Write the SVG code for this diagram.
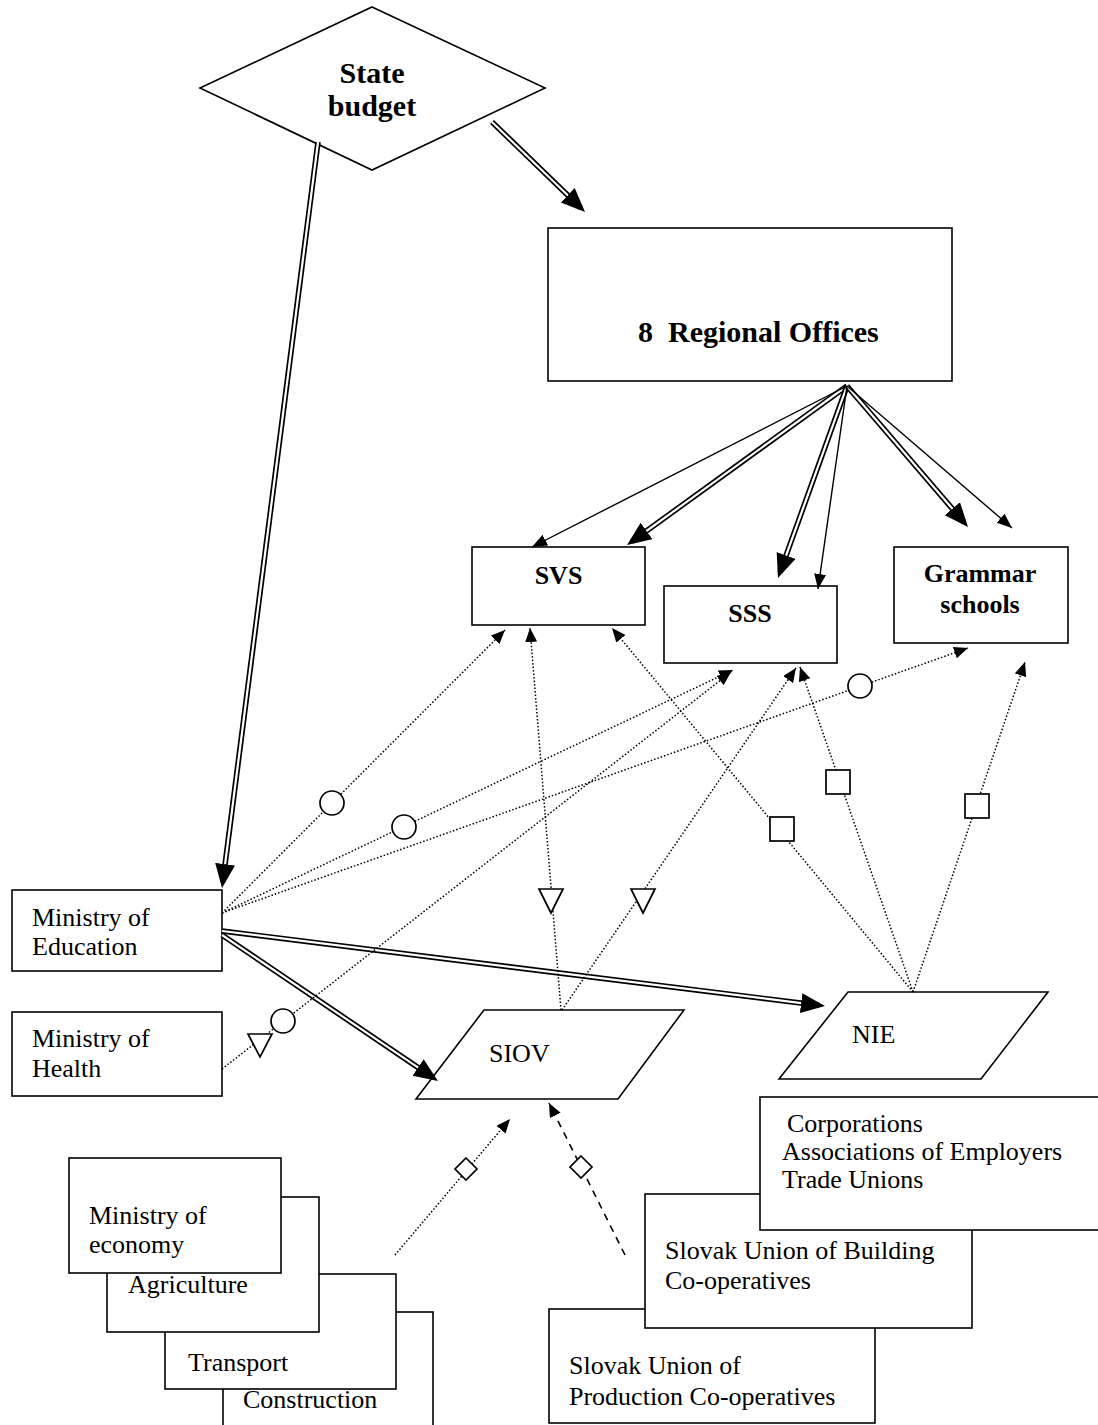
<svg xmlns="http://www.w3.org/2000/svg" width="1098" height="1425" viewBox="0 0 1098 1425">
<style>
.box{fill:#fff;stroke:#000;stroke-width:1.6}
.t{font-family:"Liberation Serif","Times New Roman",serif;font-size:26px;fill:#000}
.b{font-weight:bold}
.o{stroke:#000;stroke-width:5.6;fill:none}
.i{stroke:#fff;stroke-width:2.2;fill:none}
.h{stroke:none;fill:none;marker-end:url(#bh)}
.thin{stroke:#000;stroke-width:1.4;fill:none;marker-end:url(#th)}
.dot{stroke:#000;stroke-width:1.5;stroke-dasharray:1.5 2;fill:none;marker-end:url(#dh)}
.dash{stroke:#000;stroke-width:1.6;stroke-dasharray:7 6;fill:none;marker-end:url(#dh)}
.sym{fill:#fff;stroke:#000;stroke-width:1.7}
</style>
<defs>
<marker id="bh" markerUnits="userSpaceOnUse" markerWidth="26" markerHeight="22" refX="18" refY="10" orient="auto"><path d="M0,0 L24,10 L0,20 z" fill="#000"/></marker>
<marker id="th" markerUnits="userSpaceOnUse" markerWidth="17" markerHeight="14" refX="15" refY="6" orient="auto"><path d="M0,0 L15,6 L0,12 z" fill="#000"/></marker>
<marker id="dh" markerUnits="userSpaceOnUse" markerWidth="16" markerHeight="13" refX="14" refY="6" orient="auto"><path d="M0,0 L14,6 L0,12 z" fill="#000"/></marker>
</defs>
<rect width="1098" height="1425" fill="#fff"/>

<g id="state-budget">
<polygon class="box" points="372,7 545,88 372,170 200,88"/>
<text class="t b" x="372" y="83" text-anchor="middle" style="font-size:30px">State</text>
<text class="t b" x="372" y="116" text-anchor="middle" style="font-size:30px">budget</text>
</g>
<g id="regional-offices">
<rect class="box" x="548" y="228" width="404" height="153"/>
<text class="t b" x="638" y="342" style="font-size:30px;white-space:pre" xml:space="preserve">8  Regional Offices</text>
</g>
<g id="svs">
<rect class="box" x="472" y="547" width="173" height="78"/>
<text class="t b" x="558.5" y="584" text-anchor="middle">SVS</text>
</g>
<g id="sss">
<rect class="box" x="664" y="586" width="173" height="77"/>
<text class="t b" x="750" y="622" text-anchor="middle">SSS</text>
</g>
<g id="grammar-schools">
<rect class="box" x="894" y="547" width="174" height="96"/>
<text class="t b" x="980" y="582" text-anchor="middle">Grammar</text>
<text class="t b" x="980" y="613" text-anchor="middle">schools</text>
</g>
<g id="ministry-education">
<rect class="box" x="12" y="890" width="210" height="81"/>
<text class="t" x="32" y="926">Ministry of</text>
<text class="t" x="32" y="955">Education</text>
</g>
<g id="ministry-health">
<rect class="box" x="12" y="1012" width="210" height="84"/>
<text class="t" x="32" y="1047">Ministry of</text>
<text class="t" x="32" y="1077">Health</text>
</g>
<g id="siov">
<polygon class="box" points="484,1010 684,1010 618,1099 416,1099"/>
<text class="t" x="489" y="1062">SIOV</text>
</g>
<g id="nie">
<polygon class="box" points="848,992 1048,992 981,1079 779,1079"/>
<text class="t" x="852" y="1043">NIE</text>
</g>

<g id="production-coops">
<rect class="box" x="549" y="1309" width="326" height="114"/>
<text class="t" x="569" y="1374">Slovak Union of</text>
<text class="t" x="569" y="1405">Production Co-operatives</text>
</g>
<g id="building-coops">
<rect class="box" x="645" y="1194" width="327" height="134"/>
<text class="t" x="665" y="1259">Slovak Union of Building</text>
<text class="t" x="665" y="1289">Co-operatives</text>
</g>
<g id="corporations">
<rect class="box" x="760" y="1097" width="345" height="133"/>
<text class="t" x="787" y="1132">Corporations</text>
<text class="t" x="782" y="1160">Associations of Employers</text>
<text class="t" x="782" y="1188">Trade Unions</text>
</g>

<g id="construction">
<rect class="box" x="223" y="1312" width="210" height="130"/>
<text class="t" x="243" y="1408">Construction</text>
</g>
<g id="transport">
<rect class="box" x="165" y="1274" width="231" height="115"/>
<text class="t" x="188" y="1371">Transport</text>
</g>
<g id="agriculture">
<rect class="box" x="107" y="1197" width="212" height="135"/>
<text class="t" x="128" y="1293">Agriculture</text>
</g>
<g id="ministry-economy">
<rect class="box" x="69" y="1158" width="212" height="115"/>
<text class="t" x="89" y="1224">Ministry of</text>
<text class="t" x="89" y="1253">economy</text>
</g>

<g id="connectors">
<g id="double-arrows">
<path class="o" d="M318,142 L222.8,882"/><path class="i" d="M318,142 L222.8,882"/><path class="h" d="M318,142 L222.8,882"/>
<path class="o" d="M492,122 L580.7,207.8"/><path class="i" d="M492,122 L580.7,207.8"/><path class="h" d="M492,122 L580.7,207.8"/>
<path class="o" d="M847,386 L631.9,541.5"/><path class="i" d="M847,386 L631.9,541.5"/><path class="h" d="M847,386 L631.9,541.5"/>
<path class="o" d="M847,386 L780,572.4"/><path class="i" d="M847,386 L780,572.4"/><path class="h" d="M847,386 L780,572.4"/>
<path class="o" d="M847,386 L964.1,522.4"/><path class="i" d="M847,386 L964.1,522.4"/><path class="h" d="M847,386 L964.1,522.4"/>
<path class="o" d="M222,935 L433,1077.6"/><path class="i" d="M222,935 L433,1077.6"/><path class="h" d="M222,935 L433,1077.6"/>
<path class="o" d="M222,931 L819,1005.3"/><path class="i" d="M222,931 L819,1005.3"/><path class="h" d="M222,931 L819,1005.3"/>
</g>
<g id="thin-arrows">
<path class="thin" d="M847,386 L532,547"/>
<path class="thin" d="M847,386 L818,589"/>
<path class="thin" d="M847,386 L1012,528"/>
</g>
<g id="dotted-arrows">
<path class="dot" d="M222,913 L505,630"/>
<path class="dot" d="M222,913 L733,670"/>
<path class="dot" d="M222,913 L968,648"/>
<path class="dot" d="M222,1069 L731,672"/>
<path class="dot" d="M561,1010 L530,628"/>
<path class="dot" d="M562,1010 L796,668"/>
<path class="dot" d="M913,992 L612,628"/>
<path class="dot" d="M913,992 L800,667"/>
<path class="dot" d="M913,992 L1025,662"/>
<path class="dot" d="M395,1255 L510,1119"/>
<path class="dash" d="M625,1255 L549,1103"/>
</g>
<g id="line-symbols">
<circle class="sym" cx="332" cy="803" r="12"/>
<circle class="sym" cx="404" cy="827" r="12"/>
<circle class="sym" cx="860" cy="686" r="12"/>
<circle class="sym" cx="283" cy="1021" r="12"/>
<polygon class="sym" points="248,1034 272,1034 260,1057"/>
<polygon class="sym" points="539,889 563,889 551,913"/>
<polygon class="sym" points="631,889 655,889 643,913"/>
<rect class="sym" x="770" y="817" width="24" height="24"/>
<rect class="sym" x="826" y="770" width="24" height="24"/>
<rect class="sym" x="965" y="794" width="24" height="24"/>
<polygon class="sym" points="466,1158 477,1169 466,1180 455,1169"/>
<polygon class="sym" points="581,1156 592,1167 581,1178 570,1167"/>
</g>
</g>
</svg>
